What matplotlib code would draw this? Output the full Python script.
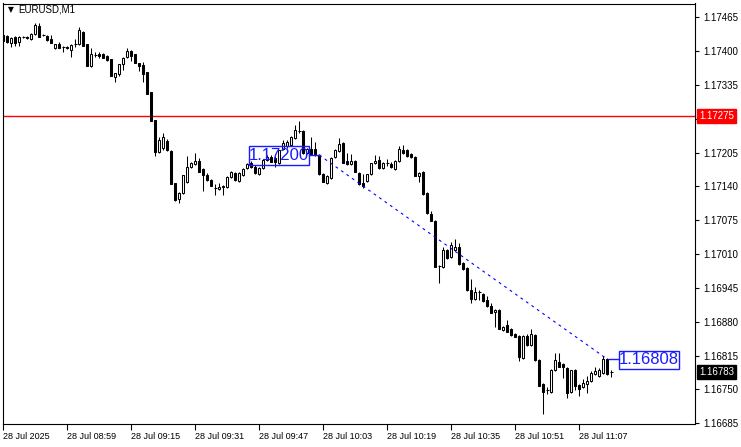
import numpy as np
import matplotlib
matplotlib.use('Agg')
import matplotlib.pyplot as plt
from matplotlib.patches import Rectangle
import matplotlib.transforms as mtransforms

plt.rcParams['font.family'] = ['Liberation Sans', 'DejaVu Sans']

# EURUSD M1 candles, first bar 28 Jul 08:43
opens = [
    1.17431, 1.17429, 1.17415, 1.17427, 1.17417, 1.17427, 1.17427, 1.17423, 1.17433, 1.17448,
    1.17431, 1.17429, 1.17423, 1.17406, 1.17413, 1.17408, 1.17408, 1.17402, 1.17413, 1.17413,
    1.17437, 1.17413, 1.17371, 1.17392, 1.17394, 1.17394, 1.17390, 1.17385, 1.17350, 1.17356,
    1.17375, 1.17389, 1.17400, 1.17394, 1.17377, 1.17373, 1.17360, 1.17321, 1.17267, 1.17206,
    1.17214, 1.17227, 1.17208, 1.17146, 1.17116, 1.17127, 1.17148, 1.17177, 1.17183, 1.17189,
    1.17173, 1.17162, 1.17152, 1.17137, 1.17135, 1.17139, 1.17139, 1.17158, 1.17166, 1.17150,
    1.17162, 1.17175, 1.17185, 1.17177, 1.17164, 1.17175, 1.17191, 1.17196, 1.17194, 1.17185,
    1.17212, 1.17218, 1.17219, 1.17233, 1.17246, 1.17246, 1.17204, 1.17212, 1.17212, 1.17200,
    1.17164, 1.17146, 1.17156, 1.17196, 1.17208, 1.17223, 1.17189, 1.17183, 1.17189, 1.17166,
    1.17146, 1.17150, 1.17164, 1.17185, 1.17191, 1.17175, 1.17185, 1.17183, 1.17173, 1.17189,
    1.17210, 1.17210, 1.17202, 1.17196, 1.17160, 1.17168, 1.17127, 1.17087, 1.17073, 1.16987,
    1.16985, 1.17018, 1.17004, 1.17018, 1.17024, 1.16993, 1.16983, 1.16941, 1.16924, 1.16937,
    1.16933, 1.16922, 1.16910, 1.16899, 1.16902, 1.16864, 1.16874, 1.16866, 1.16856, 1.16853,
    1.16810, 1.16853, 1.16835, 1.16854, 1.16806, 1.16760, 1.16749, 1.16745, 1.16787, 1.16803,
    1.16799, 1.16791, 1.16745, 1.16787, 1.16758, 1.16755, 1.16760, 1.16766, 1.16780, 1.16776,
    1.16781, 1.16808, 1.16783,
]
highs = [
    1.17435, 1.17431, 1.17427, 1.17429, 1.17429, 1.17429, 1.17429, 1.17435, 1.17454, 1.17454,
    1.17433, 1.17431, 1.17431, 1.17413, 1.17417, 1.17410, 1.17410, 1.17413, 1.17423, 1.17446,
    1.17438, 1.17413, 1.17406, 1.17398, 1.17398, 1.17396, 1.17392, 1.17385, 1.17358, 1.17375,
    1.17389, 1.17406, 1.17402, 1.17394, 1.17377, 1.17379, 1.17360, 1.17321, 1.17267, 1.17235,
    1.17243, 1.17231, 1.17210, 1.17146, 1.17129, 1.17162, 1.17198, 1.17187, 1.17204, 1.17194,
    1.17175, 1.17166, 1.17154, 1.17145, 1.17146, 1.17143, 1.17160, 1.17170, 1.17168, 1.17168,
    1.17175, 1.17185, 1.17189, 1.17181, 1.17177, 1.17193, 1.17200, 1.17200, 1.17198, 1.17210,
    1.17229, 1.17229, 1.17237, 1.17258, 1.17266, 1.17248, 1.17214, 1.17235, 1.17225, 1.17202,
    1.17166, 1.17162, 1.17196, 1.17212, 1.17233, 1.17225, 1.17204, 1.17202, 1.17191, 1.17168,
    1.17164, 1.17164, 1.17185, 1.17200, 1.17198, 1.17187, 1.17193, 1.17187, 1.17191, 1.17218,
    1.17219, 1.17212, 1.17204, 1.17198, 1.17168, 1.17170, 1.17129, 1.17093, 1.17075, 1.16989,
    1.17024, 1.17020, 1.17033, 1.17039, 1.17031, 1.16995, 1.16985, 1.16962, 1.16947, 1.16941,
    1.16935, 1.16929, 1.16916, 1.16904, 1.16904, 1.16872, 1.16883, 1.16868, 1.16858, 1.16854,
    1.16854, 1.16856, 1.16866, 1.16856, 1.16808, 1.16762, 1.16755, 1.16789, 1.16820, 1.16820,
    1.16801, 1.16793, 1.16787, 1.16789, 1.16760, 1.16770, 1.16776, 1.16785, 1.16793, 1.16791,
    1.16814, 1.16810, 1.16787,
]
lows = [
    1.17417, 1.17415, 1.17408, 1.17410, 1.17410, 1.17425, 1.17423, 1.17421, 1.17431, 1.17427,
    1.17429, 1.17419, 1.17415, 1.17404, 1.17406, 1.17398, 1.17404, 1.17389, 1.17408, 1.17412,
    1.17410, 1.17371, 1.17369, 1.17389, 1.17387, 1.17387, 1.17381, 1.17352, 1.17340, 1.17352,
    1.17364, 1.17387, 1.17381, 1.17377, 1.17362, 1.17340, 1.17317, 1.17266, 1.17198, 1.17204,
    1.17210, 1.17208, 1.17145, 1.17112, 1.17108, 1.17125, 1.17146, 1.17175, 1.17181, 1.17168,
    1.17131, 1.17150, 1.17141, 1.17123, 1.17133, 1.17123, 1.17137, 1.17156, 1.17150, 1.17148,
    1.17160, 1.17173, 1.17175, 1.17164, 1.17162, 1.17173, 1.17189, 1.17187, 1.17177, 1.17183,
    1.17210, 1.17214, 1.17218, 1.17231, 1.17243, 1.17202, 1.17202, 1.17200, 1.17198, 1.17162,
    1.17148, 1.17145, 1.17154, 1.17194, 1.17206, 1.17185, 1.17181, 1.17181, 1.17168, 1.17143,
    1.17137, 1.17148, 1.17162, 1.17183, 1.17173, 1.17173, 1.17179, 1.17175, 1.17171, 1.17187,
    1.17202, 1.17196, 1.17194, 1.17160, 1.17148, 1.17123, 1.17087, 1.17073, 1.16985, 1.16954,
    1.16983, 1.17000, 1.17002, 1.17016, 1.16989, 1.16979, 1.16939, 1.16916, 1.16922, 1.16922,
    1.16918, 1.16908, 1.16897, 1.16870, 1.16866, 1.16862, 1.16860, 1.16853, 1.16851, 1.16805,
    1.16808, 1.16833, 1.16833, 1.16805, 1.16756, 1.16703, 1.16741, 1.16743, 1.16785, 1.16793,
    1.16772, 1.16733, 1.16743, 1.16749, 1.16737, 1.16753, 1.16743, 1.16764, 1.16778, 1.16774,
    1.16780, 1.16778, 1.16774,
]
closes = [
    1.17419, 1.17417, 1.17425, 1.17415, 1.17427, 1.17427, 1.17425, 1.17433, 1.17450, 1.17427,
    1.17431, 1.17421, 1.17415, 1.17413, 1.17406, 1.17408, 1.17406, 1.17412, 1.17413, 1.17440,
    1.17410, 1.17371, 1.17394, 1.17392, 1.17390, 1.17387, 1.17383, 1.17352, 1.17358, 1.17375,
    1.17387, 1.17400, 1.17390, 1.17377, 1.17371, 1.17356, 1.17317, 1.17266, 1.17206, 1.17229,
    1.17235, 1.17210, 1.17145, 1.17114, 1.17127, 1.17162, 1.17177, 1.17185, 1.17189, 1.17168,
    1.17162, 1.17152, 1.17141, 1.17137, 1.17139, 1.17141, 1.17158, 1.17168, 1.17152, 1.17166,
    1.17173, 1.17183, 1.17177, 1.17166, 1.17175, 1.17191, 1.17196, 1.17187, 1.17187, 1.17210,
    1.17223, 1.17225, 1.17235, 1.17248, 1.17246, 1.17204, 1.17212, 1.17202, 1.17200, 1.17164,
    1.17148, 1.17160, 1.17194, 1.17210, 1.17221, 1.17185, 1.17183, 1.17189, 1.17168, 1.17145,
    1.17141, 1.17164, 1.17185, 1.17189, 1.17175, 1.17185, 1.17185, 1.17177, 1.17189, 1.17212,
    1.17204, 1.17198, 1.17196, 1.17160, 1.17166, 1.17125, 1.17089, 1.17073, 1.16985, 1.16987,
    1.17018, 1.17002, 1.17027, 1.17024, 1.16991, 1.16981, 1.16941, 1.16924, 1.16937, 1.16937,
    1.16920, 1.16910, 1.16897, 1.16902, 1.16866, 1.16870, 1.16860, 1.16854, 1.16851, 1.16812,
    1.16853, 1.16835, 1.16856, 1.16806, 1.16756, 1.16745, 1.16749, 1.16787, 1.16806, 1.16793,
    1.16793, 1.16743, 1.16787, 1.16756, 1.16751, 1.16762, 1.16766, 1.16781, 1.16785, 1.16787,
    1.16808, 1.16780, 1.16783,
]

time_ticks = [0, 16, 32, 48, 64, 80, 96, 112, 128, 144]
time_labels = ['28 Jul 2025', '28 Jul 08:59', '28 Jul 09:15', '28 Jul 09:31', '28 Jul 09:47',
               '28 Jul 10:03', '28 Jul 10:19', '28 Jul 10:35', '28 Jul 10:51', '28 Jul 11:07']
price_ticks = [1.17465, 1.17400, 1.17335, 1.17270, 1.17205, 1.17140, 1.17075,
               1.17010, 1.16945, 1.16880, 1.16815, 1.16750, 1.16685]

red_level = 1.17275
bid = 1.16783
# trend line: (bar, price) -> (bar, price)
trend_start = (79, 1.17200)
trend_end = (151, 1.16808)

o = np.array(opens); h = np.array(highs); l = np.array(lows); c = np.array(closes)
x = np.arange(len(o))

W, H = 741, 447
fig = plt.figure(figsize=(W / 100, H / 100), dpi=100)
fig.patch.set_facecolor('white')
ax = fig.add_axes([2.5 / W, 1 - 424 / H, (695 - 2.5) / W, (424 - 3.5) / H])
ax.set_facecolor('white')
ax.set_xlim(-0.2, 172.9)
ax.set_ylim(1.166835, 1.174913)
for s in ax.spines.values():
    s.set_color('black')
    s.set_linewidth(0.8)

LW = 0.75
ax.axhline(red_level, color='#ff0000', lw=1.0, zorder=1)

# candles
ax.vlines(x, l, h, color='black', lw=LW, zorder=2)
up = c > o
dn = c < o
eq = c == o
ax.bar(x[up], (c - o)[up], bottom=o[up], width=0.55, color='white',
       edgecolor='black', linewidth=LW, zorder=3)
ax.bar(x[dn], (o - c)[dn], bottom=c[dn], width=0.55, color='black',
       edgecolor='black', linewidth=LW, zorder=3)
ax.hlines(o[eq], x[eq] - 0.4, x[eq] + 0.4, color='black', lw=LW, zorder=3)

# dashed trend line
ax.plot([trend_start[0], trend_end[0]], [trend_start[1], trend_end[1]],
        color='#0000ff', lw=0.8, dashes=(2.5, 3.5), zorder=4)

BLUE = '#1a1aff'
# price labels with frames
def price_box(x0, x1, y0, y1, xc, yc, txt, link):
    ax.add_patch(Rectangle((x0, y0), x1 - x0, y1 - y0, fill=False,
                           edgecolor=BLUE, lw=1.0, zorder=5))
    ax.text(xc, yc, txt, color=BLUE, fontsize=12, ha='center', va='center', zorder=6)
    ax.plot(link[0], link[1], color=BLUE, lw=1.0, zorder=5)

price_box(61.3, 76.5, 1.17182, 1.17218, 68.9, 1.17200, '1.17200',
          ([76.5, 79.2], [1.17200, 1.17200]))
price_box(153.9, 168.9, 1.16790, 1.16824, 161.4, 1.16807, '1.16808',
          ([151.5, 153.9], [1.16808, 1.16808]))

# axes ticks; the 1.17270 label sits under the red level marker
ax.yaxis.tick_right()
ax.set_yticks(price_ticks)
ax.set_yticklabels(['' if abs(p - red_level) < 0.0001 else f'{p:.5f}' for p in price_ticks])
ax.tick_params(axis='y', direction='out', length=3, width=0.8, pad=3,
               labelsize=7, colors='black')
ax.set_xticks(time_ticks)
ax.set_xticklabels(time_labels)
ax.tick_params(axis='x', direction='out', length=4, width=0.8, pad=2,
               labelsize=6.5, colors='black')
for t in ax.get_xticklabels():
    t.set_ha('left')

# right side markers
trans = mtransforms.blended_transform_factory(ax.transAxes, ax.transData)
ax.text(1.0 + 4 / 692.5, red_level, '1.17275', transform=trans, color='white',
        fontsize=7, va='center', ha='left', zorder=10, clip_on=False,
        bbox=dict(boxstyle='square,pad=0.2', fc='#ff0000', ec='#ff0000'))
ax.text(1.0 + 4 / 692.5, bid, '1.16783', transform=trans, color='white',
        fontsize=7, va='center', ha='left', zorder=10, clip_on=False,
        bbox=dict(boxstyle='square,pad=0.2', fc='black', ec='black'))

# title
fig.text(8 / W, 1 - 10 / H, '\u25bc', fontsize=5.5, va='center', ha='left',
         family='DejaVu Sans')
fig.text(18 / W, 1 - 10 / H, 'EURUSD,M1', fontsize=7, va='center', ha='left')

fig.savefig('out.png', dpi=100, facecolor='white')
